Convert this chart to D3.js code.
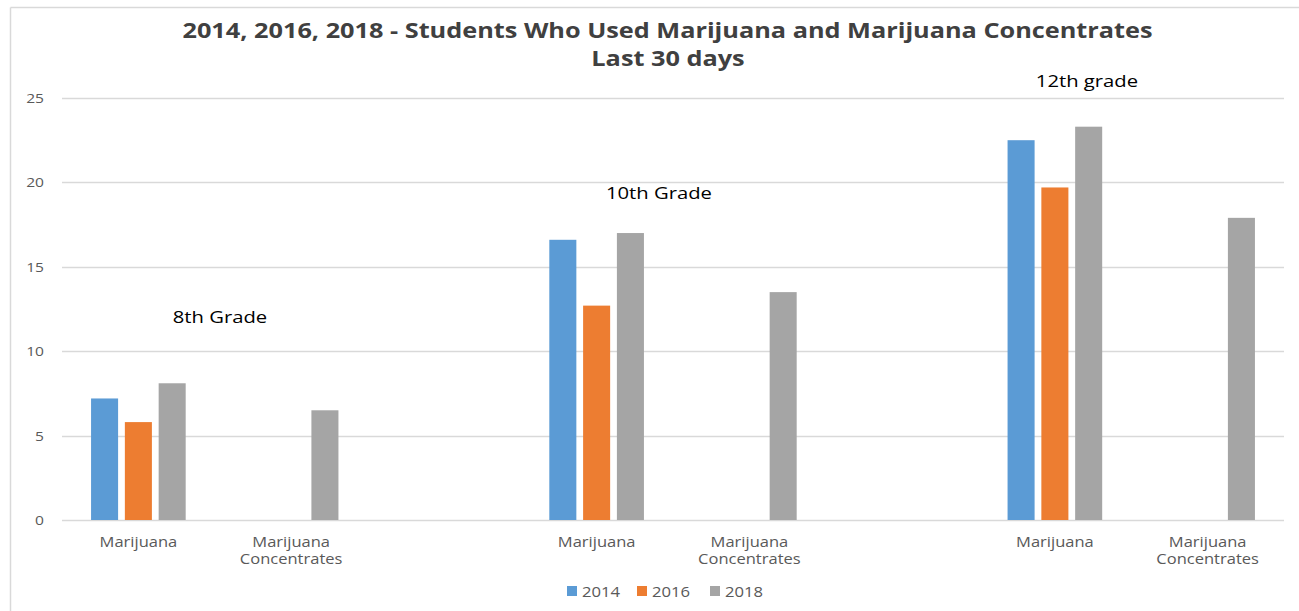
<!DOCTYPE html>
<html>
<head>
<meta charset="utf-8">
<script src="https://cdn.jsdelivr.net/npm/d3@7"></script>
<style>
  body { margin: 0; background: #fff; }
  text { font-family: "Open Sans", sans-serif; }
</style>
</head>
<body>
<div id="chart"></div>
<script>
// category slots (empty ones keep the spacing between grades)
const categories = ['Marijuana', 'Marijuana\nConcentrates', '', 'Marijuana', 'Marijuana\nConcentrates', '', 'Marijuana', 'Marijuana\nConcentrates'];
const years = ['2014', '2016', '2018'];
const values2014 = [7.2, null, null, 16.6, null, null, 22.5, null];
const values2016 = [5.8, null, null, 12.7, null, null, 19.7, null];
const values2018 = [8.1, 6.5, null, 17.0, 13.5, null, 23.3, 17.9];
const yTicks = [0, 5, 10, 15, 20, 25];
const gradeLabels = ['8th Grade', '10th Grade', '12th grade'];
// annotation anchors, in category-slot units and y values
const gradeLabelSlot = [1.034, 3.908, 6.71];
const gradeLabelValue = [11.7, 19.0, 25.65];
const colors = ['#5b9bd5', '#ed7d31', '#a5a5a5'];

const series = [values2014, values2016, values2018];

const W = 1299, H = 611;
const margin = { top: 98, right: 15, bottom: 91, left: 62 };
const width = W - margin.left - margin.right;
const height = H - margin.top - margin.bottom;

// the source picture is stretched horizontally, so text gets a small x-scale
function placeText(sel, x, y, sx) {
    return sel.attr('x', 0).attr('y', 0)
        .attr('transform', 'translate(' + x + ',' + y + ') scale(' + sx + ',1)');
}

const svg = d3.select('#chart').append('svg')
    .attr('width', W)
    .attr('height', H);

// frame of the original chart (top + left edges only visible)
svg.append('line').attr('x1', 10.5).attr('x2', W).attr('y1', 7.5).attr('y2', 7.5)
    .attr('stroke', '#d9d9d9').attr('stroke-width', 1.5);
svg.append('line').attr('x1', 10.5).attr('x2', 10.5).attr('y1', 7.5).attr('y2', H)
    .attr('stroke', '#d9d9d9').attr('stroke-width', 1.5);

// title
placeText(svg.append('text'), 667.5, 38, 1.15)
    .attr('text-anchor', 'middle')
    .attr('font-size', 22).attr('font-weight', 'bold').attr('fill', '#404040')
    .text('2014, 2016, 2018 - Students Who Used Marijuana and Marijuana Concentrates');
placeText(svg.append('text'), 668, 66, 1.15)
    .attr('text-anchor', 'middle')
    .attr('font-size', 22).attr('font-weight', 'bold').attr('fill', '#404040')
    .text('Last 30 days');

const g = svg.append('g')
    .attr('transform', 'translate(' + margin.left + ',' + margin.top + ')');

const x0 = d3.scaleBand()
    .domain(d3.range(categories.length))
    .range([0, width]);

const xSlot = d3.scaleLinear()
    .domain([0, categories.length])
    .range([0, width]);

const x1 = d3.scaleBand()
    .domain(years)
    .range([0, x0.bandwidth()])
    .paddingInner(0.2)
    .paddingOuter(0.86);

const y = d3.scaleLinear()
    .domain([0, 25])
    .range([height, 0]);

// gridlines
g.append('g')
    .selectAll('line')
    .data(yTicks)
    .enter()
    .append('line')
    .attr('x1', 0).attr('x2', width)
    .attr('y1', d => Math.round(y(d)) + 0.5)
    .attr('y2', d => Math.round(y(d)) + 0.5)
    .attr('stroke', '#d9d9d9').attr('stroke-width', 1.3);

// y tick labels
g.append('g')
    .selectAll('text')
    .data(yTicks)
    .enter()
    .append('text')
    .each(function (d) { placeText(d3.select(this), -18, y(d) + 5, 1.2); })
    .attr('text-anchor', 'end')
    .attr('font-size', 13).attr('fill', '#595959')
    .text(d => d);

// bars
series.forEach(function (vals, si) {
    g.append('g')
        .selectAll('rect')
        .data(vals.map((v, i) => ({ i: i, v: v })).filter(d => d.v !== null))
        .enter()
        .append('rect')
        .attr('x', d => x0(d.i) + x1(years[si]))
        .attr('y', d => y(d.v))
        .attr('width', x1.bandwidth())
        .attr('height', d => y(0) - y(d.v))
        .attr('fill', colors[si]);
});

// category labels
const catLabels = g.append('g')
    .selectAll('text')
    .data(categories.map((c, i) => ({ i: i, c: c })).filter(d => d.c !== ''))
    .enter()
    .append('text')
    .each(function (d) { placeText(d3.select(this), x0(d.i) + x0.bandwidth() / 2, height + 27, 1.18); })
    .attr('text-anchor', 'middle')
    .attr('font-size', 14).attr('fill', '#595959');
catLabels.selectAll('tspan')
    .data(d => d.c.split('\n'))
    .enter()
    .append('tspan')
    .attr('x', 0)
    .attr('dy', (d, k) => k === 0 ? 0 : 17)
    .text(d => d);

// grade annotations
g.append('g')
    .selectAll('text')
    .data(gradeLabels)
    .enter()
    .append('text')
    .each(function (d, i) { placeText(d3.select(this), xSlot(gradeLabelSlot[i]), y(gradeLabelValue[i]), 1.19); })
    .attr('text-anchor', 'middle')
    .attr('font-size', 17).attr('fill', '#000')
    .text(d => d);

// legend
const legendX = [567, 637, 710];
const legend = svg.append('g')
    .selectAll('g')
    .data(years)
    .enter()
    .append('g')
    .attr('transform', (d, i) => 'translate(' + legendX[i] + ',586)');
legend.append('rect')
    .attr('width', 10).attr('height', 10)
    .attr('fill', (d, i) => colors[i]);
legend.append('text')
    .each(function () { placeText(d3.select(this), 15, 10.5, 1.19); })
    .attr('font-size', 14).attr('fill', '#595959')
    .text(d => d);
</script>
</body>
</html>
